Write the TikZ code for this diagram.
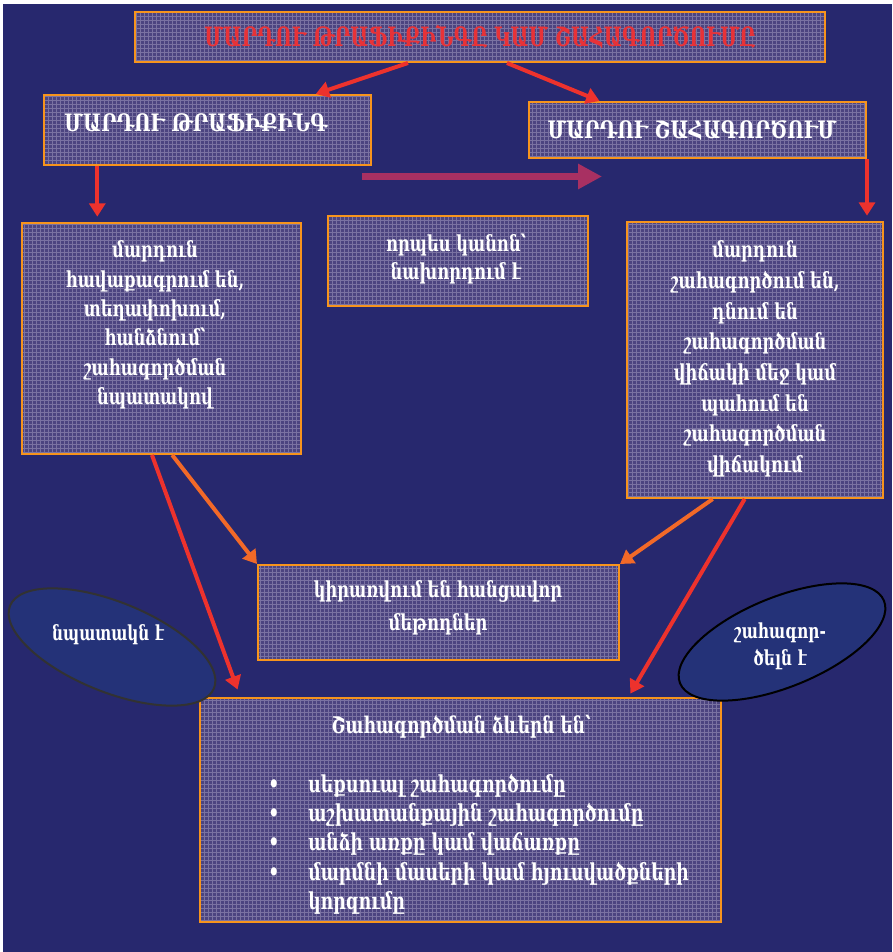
\documentclass[tikz,border=0pt]{standalone}
\usepackage{fontspec}
\setmainfont{DejaVu Serif}[FakeStretch=0.74]
\newfontfamily\capsfont{DejaVu Serif}[FakeStretch=0.8]
\newfontfamily\titfont{DejaVu Serif}[FakeStretch=0.73]
\usetikzlibrary{arrows.meta,calc,shapes.geometric,patterns}
\definecolor{bg}{RGB}{39,40,110}
\definecolor{boxfill}{RGB}{76,68,128}
\definecolor{gridc}{RGB}{122,114,162}
\definecolor{bord}{RGB}{247,148,29}
\definecolor{arred}{RGB}{237,50,45}
\definecolor{arorange}{RGB}{242,105,40}
\definecolor{magarrow}{RGB}{168,48,98}
\definecolor{ellfill}{RGB}{36,50,120}
\definecolor{titred}{RGB}{232,50,55}
\begin{document}
\begin{tikzpicture}[x=0.75pt,y=-0.75pt,
  box/.style={rectangle, inner sep=0pt, preaction={fill=boxfill}, pattern=grid, pattern color=gridc, draw=bord, line width=1.5pt},
  txt/.style={text=white, font=\bfseries\fontsize{16.5}{22}\selectfont, align=center, inner sep=0pt},
  head/.style={text=white, font=\capsfont\bfseries\fontsize{18}{20}\selectfont, inner sep=0pt},
  ell/.style={ellipse, inner sep=0pt, fill=ellfill, line width=1.5pt, minimum width=165pt, minimum height=67.5pt},
  etxt/.style={text=white, font=\bfseries\fontsize{15.5}{20}\selectfont, align=center, inner sep=0pt},
  redarrow/.style={draw=arred, line width=3pt, -{Triangle[length=10pt,width=12pt]}},
  orarrow/.style={draw=arorange, line width=3pt, -{Triangle[length=10pt,width=12pt]}}
]
\useasboundingbox (0,0) rectangle (892,952);
\fill[white] (0,0) rectangle (892,952);
\fill[bg] (3,4) rectangle (892,952);

% boxes
\node[box, minimum width=517.5pt, minimum height=37.5pt] (title) at (480,37) {};
\node[text=titred, font=\titfont\bfseries\fontsize{20}{22}\selectfont, inner sep=0pt] (titlet) at (480,37) {ՄԱՐԴՈՒ ԹՐԱՖԻՔԻՆԳԸ ԿԱՄ ՇԱՀԱԳՈՐԾՈՒՄԸ};

\node[box, minimum width=245.25pt, minimum height=52.5pt] (lh) at (207.5,130) {};
\node[head] (lht) at (196,122) {ՄԱՐԴՈՒ ԹՐԱՖԻՔԻՆԳ};

\node[box, minimum width=252.75pt, minimum height=42pt] (rh) at (697.5,130) {};
\node[head] (rht) at (692,130) {ՄԱՐԴՈՒ ՇԱՀԱԳՈՐԾՈՒՄ};

\node[box, minimum width=209.25pt, minimum height=173.25pt] (lb) at (161.5,338.5) {};
\node[txt] (lbt) at (155,325) {մարդուն\\հավաքագրում են,\\տեղափոխում,\\հանձնում՝\\շահագործման\\նպատակով};

\node[box, minimum width=195pt, minimum height=67.5pt] (mb) at (458,261) {};
\node[txt, font=\bfseries\fontsize{16.5}{20.5}\selectfont] (mbt) at (456,259) {որպես կանոն՝\\նախորդում է};

\node[box, minimum width=192pt, minimum height=207pt] (rb) at (755,360) {};
\node[txt, font=\bfseries\fontsize{16.5}{23}\selectfont] (rbt) at (755,359) {մարդուն\\շահագործում են,\\դնում են\\շահագործման\\վիճակի մեջ կամ\\պահում են\\շահագործման\\վիճակում};

\node[box, minimum width=270.75pt, minimum height=71.25pt] (cb) at (438.5,612.5) {};
\node[txt, font=\bfseries\fontsize{16.5}{24.5}\selectfont] (cbt) at (438,608) {կիրառվում են հանցավոր\\մեթոդներ};

\node[box, minimum width=390.75pt, minimum height=168pt] (bb) at (460.5,810) {};
\node[txt, font=\bfseries\fontsize{17.2}{22}\selectfont] (bbt) at (461,727) {Շահագործման ձևերն են՝};
\node[txt, font=\bfseries\fontsize{17.5}{22}\selectfont, align=left, anchor=west] (bbl) at (268,844) {\makebox[30pt][l]{•}սեքսուալ շահագործումը\\\makebox[30pt][l]{•}աշխատանքային շահագործումը\\\makebox[30pt][l]{•}անձի առքը կամ վաճառքը\\\makebox[30pt][l]{•}մարմնի մասերի կամ հյուսվածքների\\\hspace*{30pt}կորզումը};

% ellipses
\node[ell, draw={rgb,255:red,50;green,50;blue,50}, rotate=-22] (el) at (112,647) {};
\node[etxt] (elt) at (108,635) {նպատակն է};
\node[ell, draw=black, rotate=22] (er) at (782,642) {};
\node[etxt] (ert) at (780,646) {շահագոր-\\ծելն է};

% arrows
\draw[redarrow] ($(title.south west)!0.396!(title.south east)$) -- ($(lh.north west)!0.829!(lh.north east)$);
\draw[redarrow] ($(title.south west)!0.539!(title.south east)$) -- ($(rh.north west)!0.211!(rh.north east)$);

\coordinate (a1) at ($(lh.south west)!0.165!(lh.south east)$);
\draw[redarrow, shorten >=4pt] (a1) -- (a1 |- lb.north);
\coordinate (a2) at (rh.south east);
\draw[redarrow, shorten >=4pt] (a2) -- (a2 |- rb.north);

\coordinate (m1) at (362,176.5);
\coordinate (m2) at (602,176.5);
\draw[draw=magarrow, line width=5.5pt, -{Triangle[length=18pt,width=18pt]}] (m1) -- (m2);

\draw[redarrow, shorten >=6pt] ($(lb.south west)!0.466!(lb.south east)$) -- ($(bb.north west)!0.079!(bb.north east)$);
\draw[orarrow] ($(lb.south west)!0.538!(lb.south east)$) -- (cb.north west);
\draw[orarrow] ($(rb.south west)!0.336!(rb.south east)$) -- (cb.north east);
\draw[redarrow, shorten >=3pt] ($(rb.south west)!0.46!(rb.south east)$) -- ($(bb.north west)!0.821!(bb.north east)$);
\end{tikzpicture}
\end{document}
